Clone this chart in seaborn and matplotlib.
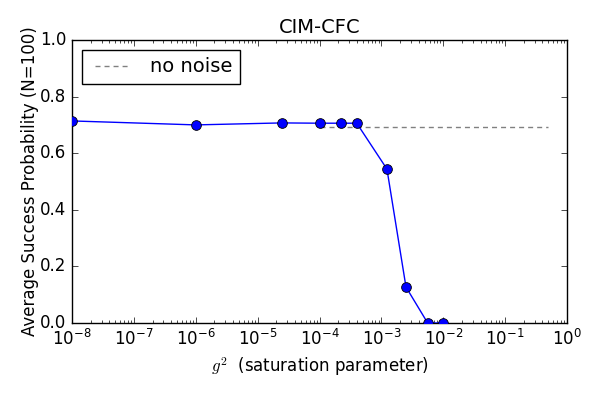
import matplotlib
matplotlib.use("Agg")
import matplotlib.pyplot as plt
import seaborn as sns
import pandas as pd

g2 = [1e-8, 1e-6, 2.45e-5, 1e-4, 2.24e-4, 4.0e-4, 1.23e-3, 2.5e-3, 5.6e-3, 1e-2]
success = [0.714, 0.700, 0.707, 0.706, 0.706, 0.706, 0.544, 0.127, 0.0, 0.0]
noise_x = [1e-4, 0.5]
noise_y = [0.693, 0.693]

plt.style.use("classic")
plt.rcParams["figure.facecolor"] = "white"
plt.rcParams["savefig.facecolor"] = "white"
plt.rcParams["mathtext.fontset"] = "cm"
plt.rcParams["font.family"] = ["DejaVu Sans"]

df = pd.DataFrame({"g2": g2, "p": success})
ndf = pd.DataFrame({"x": noise_x, "y": noise_y})

fig = plt.figure(figsize=(6, 4), dpi=100)
ax = fig.add_axes([0.12, 0.1925, 0.825, 0.7075])

sns.lineplot(data=df, x="g2", y="p", ax=ax, color="blue", marker="o",
             markersize=7, markeredgecolor="black", markeredgewidth=0.6,
             linewidth=1.0, zorder=3)
sns.lineplot(data=ndf, x="x", y="y", ax=ax, color="gray",
             linewidth=1.0, label="no noise", zorder=2)
noise_line = ax.lines[-1]
noise_line.set_dashes((3.6, 2.9))

ax.set_xscale("log")
ax.set_xlim(1e-8, 1e0)
ax.set_ylim(0, 1.0)
ax.set_yticks([0.0, 0.2, 0.4, 0.6, 0.8, 1.0])
ax.set_title("CIM-CFC", fontsize=14)
ax.set_xlabel(r"$g^2$  (saturation parameter)", fontsize=12)
ax.set_ylabel("Average Success Probability (N=100)", fontsize=12, labelpad=1)
ax.tick_params(labelsize=12)
ax.legend(handles=[noise_line], labels=["no noise"], loc="upper left",
          fontsize=14, frameon=True, fancybox=False, handlelength=2.3)

fig.savefig("out.png", dpi=100)
